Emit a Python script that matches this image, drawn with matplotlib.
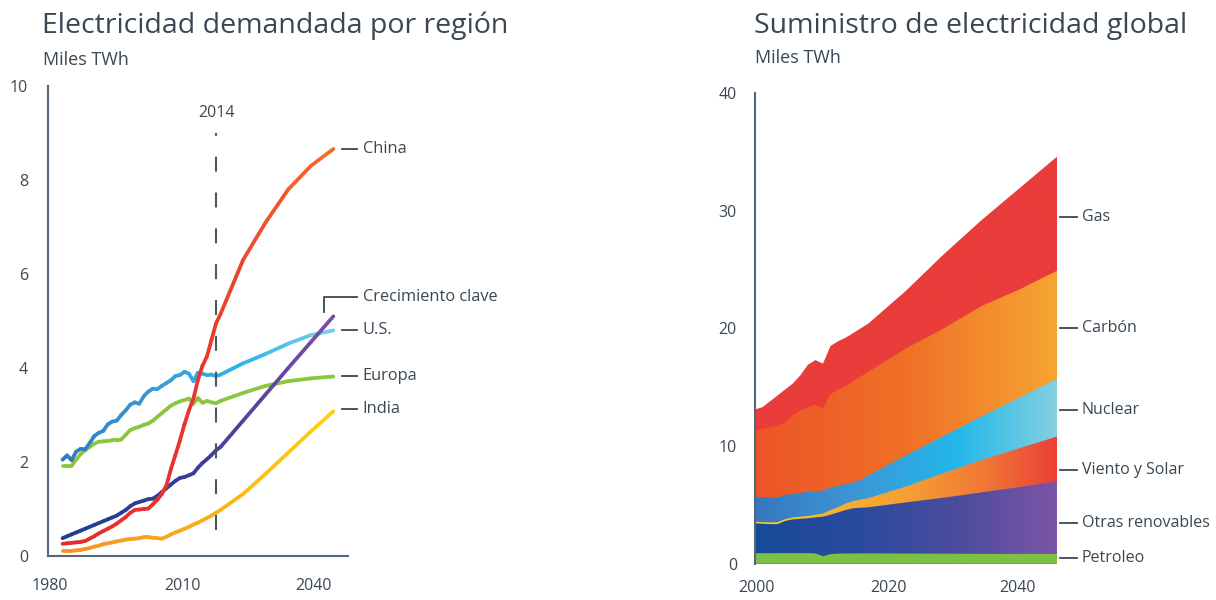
import numpy as np
import matplotlib
matplotlib.use("Agg")
import matplotlib.pyplot as plt
from matplotlib.collections import LineCollection
from matplotlib.colors import LinearSegmentedColormap
from matplotlib.patches import PathPatch

plt.rcParams['font.family'] = ['Open Sans', 'DejaVu Sans']

# ---------------- data: left panel (miles TWh) ----------------
years_left = list(range(1980, 2015)) + [2015, 2020, 2025, 2030, 2035, 2040]

china = [0.26, 0.27, 0.28, 0.29, 0.30, 0.32, 0.37, 0.42, 0.48, 0.53,
         0.58, 0.63, 0.69, 0.76, 0.83, 0.92, 0.98, 0.99, 1.00, 1.01,
         1.10, 1.20, 1.32, 1.50, 1.85, 2.15, 2.46, 2.80, 3.10, 3.35,
         3.75, 4.05, 4.25, 4.60, 4.95,
         5.15, 6.30, 7.10, 7.80, 8.30, 8.66]
us = [2.05, 2.14, 2.04, 2.22, 2.28, 2.27, 2.40, 2.55, 2.62, 2.66,
      2.80, 2.86, 2.88, 3.00, 3.10, 3.22, 3.27, 3.24, 3.40, 3.50,
      3.56, 3.55, 3.62, 3.68, 3.74, 3.83, 3.85, 3.92, 3.88, 3.72,
      3.90, 3.88, 3.85, 3.86, 3.83,
      3.86, 4.10, 4.30, 4.52, 4.70, 4.80]
europa = [1.91, 1.91, 1.92, 2.05, 2.17, 2.25, 2.32, 2.39, 2.43, 2.44,
          2.45, 2.46, 2.46, 2.48, 2.58, 2.68, 2.72, 2.75, 2.79, 2.82,
          2.88, 2.96, 3.04, 3.12, 3.20, 3.25, 3.29, 3.32, 3.35, 3.24,
          3.36, 3.26, 3.30, 3.27, 3.25,
          3.30, 3.47, 3.62, 3.72, 3.78, 3.82]
india = [0.11, 0.11, 0.11, 0.12, 0.13, 0.15, 0.17, 0.20, 0.22, 0.25,
         0.27, 0.29, 0.31, 0.33, 0.35, 0.36, 0.37, 0.38, 0.40, 0.40,
         0.39, 0.38, 0.37, 0.41, 0.46, 0.50, 0.54, 0.58, 0.62, 0.67,
         0.71, 0.76, 0.81, 0.86, 0.92,
         0.98, 1.32, 1.75, 2.20, 2.65, 3.08]
crecimiento = [0.38, 0.42, 0.46, 0.50, 0.54, 0.58, 0.62, 0.66, 0.70, 0.74,
               0.78, 0.82, 0.86, 0.92, 0.98, 1.06, 1.12, 1.15, 1.18, 1.21,
               1.22, 1.28, 1.36, 1.44, 1.52, 1.60, 1.66, 1.68, 1.72, 1.76,
               1.88, 1.98, 2.06, 2.15, 2.25,
               2.32, 2.88, 3.44, 4.00, 4.55, 5.10]

left_ticks = ["1980", "2010", "2040"]
left_yticks = [0, 2, 4, 6, 8, 10]

# ---------------- data: right panel (miles TWh, per fuel) ----------------
years_right = list(range(2000, 2015)) + [2015, 2020, 2025, 2030, 2035, 2040]

petroleo = [0.88, 0.88, 0.88, 0.88, 0.88, 0.88, 0.88, 0.88, 0.86, 0.62,
            0.80, 0.84, 0.86, 0.86, 0.86,
            0.86, 0.85, 0.84, 0.82, 0.82, 0.82]
otras = [2.54, 2.50, 2.47, 2.47, 2.74, 2.87, 2.92, 2.97, 3.06, 3.36,
         3.35, 3.51, 3.69, 3.84, 3.89,
         3.92, 4.35, 4.76, 5.23, 5.68, 6.16]
viento_solar = [0.14, 0.14, 0.15, 0.17, 0.16, 0.17, 0.18, 0.20, 0.23, 0.27,
                0.40, 0.45, 0.55, 0.60, 0.70,
                0.77, 1.35, 2.10, 2.75, 3.30, 3.82]
nuclear = [2.12, 2.13, 2.12, 2.08, 2.07, 1.98, 2.02, 2.05, 2.00, 1.95,
           1.90, 1.80, 1.65, 1.60, 1.65,
           1.95, 2.65, 3.15, 3.70, 4.30, 4.90]
carbon = [5.62, 5.80, 5.98, 6.15, 6.15, 6.70, 7.00, 7.20, 7.35, 7.00,
          7.95, 8.20, 8.35, 8.60, 8.80,
          8.80, 9.10, 9.15, 9.40, 9.20, 9.20]
gas = [1.80, 1.85, 2.20, 2.55, 2.80, 2.70, 3.00, 3.60, 3.80, 3.80,
       4.10, 4.10, 4.10, 4.10, 4.10,
       4.10, 4.90, 6.30, 7.30, 8.60, 9.70]

right_ticks = ["2000", "2020", "2040"]
right_yticks = [0, 10, 20, 30, 40]

text_color = '#3a4753'
axis_color = '#56677a'


def gradient_line(ax, x, y, colors, lw=2.7):
    x = np.asarray(x, float)
    y = np.asarray(y, float)
    pts = np.column_stack([x, y]).reshape(-1, 1, 2)
    segs = np.concatenate([pts[:-1], pts[1:]], axis=1)
    cmap = LinearSegmentedColormap.from_list('g', colors)
    lc = LineCollection(segs, cmap=cmap, norm=plt.Normalize(x.min(), x.max()),
                        linewidth=lw, capstyle='round', joinstyle='round')
    lc.set_array((x[:-1] + x[1:]) / 2)
    ax.add_collection(lc)


def gradient_area(ax, x, top, colors):
    poly = ax.fill_between(x, 0, top, facecolor='none', edgecolor='none')
    patch = PathPatch(poly.get_paths()[0], transform=ax.transData,
                      facecolor='none', edgecolor='none')
    ax.add_patch(patch)
    cmap = LinearSegmentedColormap.from_list('a', colors)
    grad = np.linspace(0, 1, 256).reshape(1, -1)
    im = ax.imshow(grad, cmap=cmap, aspect='auto', origin='lower',
                   extent=[min(x), max(x), 0, 40], interpolation='bicubic')
    im.set_clip_path(patch)


fig = plt.figure(figsize=(12.16, 6.0), dpi=100)

# ================= left panel =================
ax1 = fig.add_axes([0.0392, 0.0733, 0.2472, 0.7833])

gradient_line(ax1, years_left, europa, ['#8cc63f', '#8cc63f'])
gradient_line(ax1, years_left, us, ['#2f78bf', '#3a9ad6', '#2bb5e8', '#7fd0e6'])
gradient_line(ax1, years_left, india, ['#f7901e', '#f9ad1a', '#fdd210'])
gradient_line(ax1, years_left, crecimiento, ['#1f3d8f', '#3a3e99', '#7b4fa6'])
gradient_line(ax1, years_left, china, ['#e42c2e', '#e8352d', '#f2702a'])

ax1.plot([2014, 2014], [0.55, 9.0], color='#4a5866', lw=1.5, dashes=(7.2, 10))
ax1.text(2014, 9.42, "2014", ha='center', va='center', fontsize=11.5, color=text_color)

ax1.set_xlim(1976.7, 2043.3)
ax1.set_ylim(0, 10)
for s in ['top', 'right']:
    ax1.spines[s].set_visible(False)
for s in ['left', 'bottom']:
    ax1.spines[s].set_color(axis_color)
    ax1.spines[s].set_linewidth(1.5)
ax1.set_yticks(left_yticks)
ax1.set_xticks([1977.2, 2006.6, 2035.7])
ax1.set_xticklabels(left_ticks)
ax1.tick_params(length=0, labelsize=11.5, labelcolor=text_color)
ax1.tick_params(axis='y', pad=14)
ax1.tick_params(axis='x', pad=16)

# series labels
left_labels = [("China", 8.66), ("U.S.", 4.80), ("Europa", 3.82), ("India", 3.12)]
for name, yv in left_labels:
    ax1.plot([2041.9, 2045.2], [yv, yv], color=text_color, lw=1.3, clip_on=False)
    ax1.text(2046.5, yv, name, ha='left', va='center', fontsize=11.8, color=text_color, clip_on=False)
ax1.plot([2037.9, 2037.9, 2045.2], [5.19, 5.52, 5.52], color=text_color, lw=1.3, clip_on=False)
ax1.text(2046.5, 5.52, "Crecimiento clave", ha='left', va='center', fontsize=11.8,
         color=text_color, clip_on=False)

# ================= right panel =================
ax2 = fig.add_axes([0.6209, 0.0608, 0.2484, 0.784])

layers = np.vstack([petroleo, otras, viento_solar, nuclear, carbon, gas])
tops = np.cumsum(layers, axis=0)
layer_colors = [
    ['#7cc144', '#7cc144'],
    ['#174a9a', '#2a4a9e', '#4b4c9f', '#7d55a6'],
    ['#f5d02a', '#f7b230', '#f5a033', '#f07a35', '#eb3f36'],
    ['#3678be', '#3d96d6', '#22b8ea', '#85d0e0'],
    ['#ec5427', '#f07028', '#f6a532'],
    ['#e93d3b', '#e93d3b'],
]
# paint from the top layer down so neighbouring areas share no seams
for i in range(len(layers) - 1, -1, -1):
    gradient_area(ax2, years_right, tops[i], layer_colors[i])

ax2.set_xlim(2000, 2040)
ax2.set_ylim(0, 40)
for s in ['top', 'right', 'bottom']:
    ax2.spines[s].set_visible(False)
ax2.spines['left'].set_color(axis_color)
ax2.spines['left'].set_linewidth(1.5)
ax2.set_yticks(right_yticks)
ax2.set_xticks([2000.2, 2017.7, 2034.8])
ax2.set_xticklabels(right_ticks)
ax2.tick_params(length=0, labelsize=11.5, labelcolor=text_color)
ax2.tick_params(axis='y', pad=13)
ax2.tick_params(axis='x', pad=12)

right_labels = [("Gas", 29.5), ("Carbón", 20.0), ("Nuclear", 13.05),
                ("Viento y Solar", 7.96), ("Otras renovables", 3.42), ("Petroleo", 0.44)]
for name, yv in right_labels:
    ax2.plot([2040.4, 2042.6], [yv, yv], color=text_color, lw=1.3, clip_on=False)
    ax2.text(2043.3, yv, name, ha='left', va='center', fontsize=11.5, color=text_color, clip_on=False)

# titles
fig.text(42 / 1216, 1 - 26 / 600, "Electricidad demandada por región", fontsize=20.5,
         color=text_color, ha='left', va='center')
fig.text(43 / 1216, 1 - 60 / 600, "Miles TWh", fontsize=13, color=text_color, ha='left', va='center')
fig.text(754 / 1216, 1 - 26 / 600, "Suministro de electricidad global", fontsize=20.5,
         color=text_color, ha='left', va='center')
fig.text(755 / 1216, 1 - 58 / 600, "Miles TWh", fontsize=13, color=text_color, ha='left', va='center')

fig.savefig("out.png", dpi=100, facecolor='white')
